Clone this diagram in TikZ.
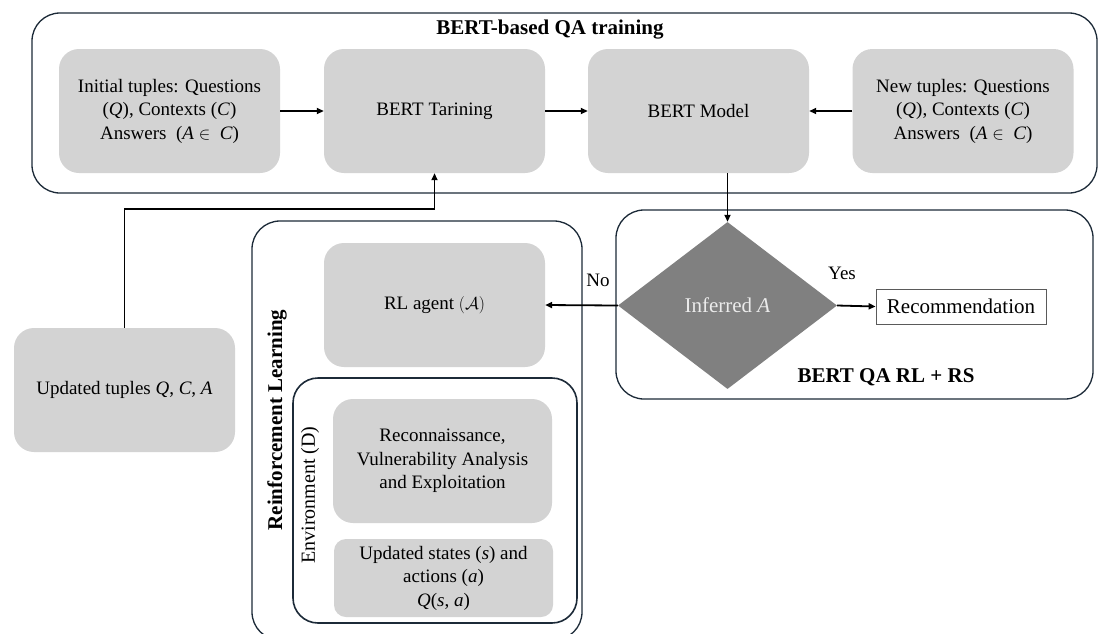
\documentclass[tikz,border=0pt]{standalone}
\usepackage{fontspec}
\setmainfont{Liberation Serif}
\usetikzlibrary{shapes.geometric,arrows.meta}
\definecolor{boxgray}{RGB}{211,211,211}
\definecolor{diagray}{RGB}{128,128,128}
\definecolor{framecol}{RGB}{28,42,56}
\definecolor{inftext}{RGB}{235,235,235}
\definecolor{recborder}{RGB}{90,90,90}
\newcommand{\mv}[1]{\textit{#1}}
\tikzset{
  graybox/.style={draw=none, fill=boxgray, rounded corners=20pt, align=center,
    minimum width=221pt, minimum height=124pt, inner sep=2pt,
    font=\fontsize{19}{23.5}\selectfont},
  frame/.style={draw=framecol, line width=1.3pt, rounded corners=28pt, fill=none, inner sep=0pt},
  arr/.style={draw=black, line width=1.8pt, -{Triangle[length=7pt,width=6pt]}},
  lbl/.style={font=\fontsize{19}{23.5}\selectfont, inner sep=0pt},
  boldlbl/.style={font=\fontsize{21}{25}\selectfont\bfseries, inner sep=0pt}
}
\begin{document}
\begin{tikzpicture}[x=1pt,y=-1pt]
\useasboundingbox (0,0) rectangle (1099,633);
\fill[white] (0,0) rectangle (1099,633);

% frames
\node[frame, minimum width=1065pt, minimum height=180pt] (qa) at (564.5,103) {};
\node[frame, minimum width=477pt, minimum height=189pt] (rs) at (854.5,304.5) {};
\node[frame, minimum width=330pt, minimum height=419pt] (rl) at (417,430.5) {};
\node[frame, line width=1.6pt, rounded corners=25pt, minimum width=284pt, minimum height=245pt] (env) at (435,500.5) {};

% frame labels
\node[boldlbl] (qatitle) at (550,30) {BERT-based QA training};
\node[boldlbl] (rstitle) at (886,377) {BERT QA RL + RS};
\node[boldlbl, rotate=90] (rltitle) at (277,420) {Reinforcement Learning};
\node[lbl, font=\fontsize{20}{24}\selectfont, rotate=90] (envtitle) at (310,495) {Environment (D)};

% top row
\node[graybox] (box1) at (169.5,111) {Initial tuples: Questions\\(\mv{Q}), Contexts (\mv{C})\\Answers~~(\mv{A} $\in$~ \mv{C})};
\node[graybox] (box2) at (434.5,111) {BERT Tarining};
\node[graybox] (box3) at (698.5,111) {BERT Model};
\node[graybox] (box4) at (963,111) {New tuples: Questions\\(\mv{Q}), Contexts (\mv{C})\\Answers~~(\mv{A} $\in$~ \mv{C})};

% left
\node[graybox] (upd) at (124.5,390) {Updated tuples \mv{Q}, \mv{C}, \mv{A}};

% RL
\node[graybox] (agent) at (434.5,305) {RL agent $(\mathcal{A})$};
\node[graybox, minimum width=219pt] (recon) at (442.5,461) {Reconnaissance,\\Vulnerability Analysis\\and Exploitation};
\node[graybox, minimum width=219pt, minimum height=78pt, rounded corners=12pt] (states) at (443.5,578) {Updated states (\mv{s}) and\\actions (\mv{a})\\\mv{Q}(\mv{s}, \mv{a})};

% decision
\node[diamond, fill=diagray, draw=none, minimum width=219pt, minimum height=167pt, inner sep=0pt,
      text=inftext, font=\fontsize{21}{25}\selectfont] (dia) at (727.5,305.5) {Inferred \mv{A}};
\node[draw=recborder, line width=0.8pt, fill=white, minimum width=170pt, minimum height=35pt, inner sep=0pt,
      font=\fontsize{21}{25}\selectfont] (rec) at (961,306.5) {Recommendation};

\node[lbl] (nolbl) at (598,280) {No};
\node[lbl] (yeslbl) at (842,273) {Yes};

% connectors
\draw[arr] (box1.east) -- (box2.west);
\draw[arr] (box2.east) -- (box3.west);
\draw[arr] (box4.west) -- (box3.east);
\draw[arr] (box3.south -| dia.north) -- (dia.north);
\draw[arr] (dia.west) -- (agent.east);
\draw[arr] (dia.east) -- (rec.west);
\coordinate (fbk) at (124.5,209);
\draw[arr] (upd.north) -- (fbk) -| (box2.south);
\end{tikzpicture}
\end{document}
